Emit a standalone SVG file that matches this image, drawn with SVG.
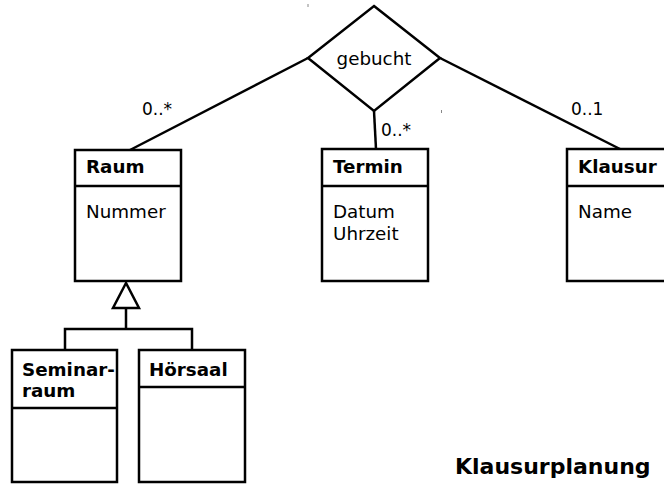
<svg xmlns="http://www.w3.org/2000/svg" width="664" height="484" viewBox="0 0 664 484">
  <style>
    .box { fill: #fff; stroke: #000; stroke-width: 2.5; }
    .line { fill: none; stroke: #000; stroke-width: 2.5; }
    .name { font-family: "DejaVu Sans", sans-serif; font-weight: bold; font-size: 18.3px; fill: #000; }
    .attr { font-family: "DejaVu Sans", sans-serif; font-size: 18.3px; fill: #000; }
    .mult { font-family: "DejaVu Sans", sans-serif; font-size: 17px; fill: #000; }
    .title { font-family: "DejaVu Sans", sans-serif; font-weight: bold; font-size: 22px; fill: #000; }
  </style>
  <rect width="664" height="484" fill="#fff"/>

  <!-- associations and generalization -->
  <g id="connectors">
    <line class="line" x1="308" y1="58" x2="130" y2="150"/>
    <line class="line" x1="374" y1="111" x2="376" y2="149"/>
    <line class="line" x1="440" y1="58" x2="620" y2="149"/>
    <polygon class="line" points="126,283 113,308 139,308" fill="#fff"/>
    <polyline class="line" points="126,308 126,329"/>
    <polyline class="line" points="65,350 65,329 192,329 192,350"/>
    <text class="mult" x="142" y="115">0..*</text>
    <text class="mult" x="381" y="136">0..*</text>
    <text class="mult" x="571" y="115">0..1</text>
    <line x1="308" y1="4" x2="308" y2="7" stroke="#888" stroke-width="1"/>
    <line x1="441.5" y1="110" x2="441.5" y2="113" stroke="#888" stroke-width="1"/>
  </g>

  <g id="gebucht">
    <polygon class="box" points="374,6 440,58 374,111 308,58"/>
    <text class="attr" x="374" y="65" text-anchor="middle">gebucht</text>
  </g>

  <g id="raum">
    <rect class="box" x="75" y="150" width="106" height="131"/>
    <line class="line" x1="75" y1="186" x2="181" y2="186"/>
    <text class="name" x="86" y="173">Raum</text>
    <text class="attr" x="86" y="218">Nummer</text>
  </g>

  <g id="termin">
    <rect class="box" x="322" y="149" width="106" height="132"/>
    <line class="line" x1="322" y1="186" x2="428" y2="186"/>
    <text class="name" x="333" y="173">Termin</text>
    <text class="attr" x="333" y="218">Datum</text>
    <text class="attr" x="333" y="240">Uhrzeit</text>
  </g>

  <g id="klausur">
    <rect class="box" x="567" y="149" width="106" height="132"/>
    <line class="line" x1="567" y1="186" x2="673" y2="186"/>
    <text class="name" x="578" y="173">Klausur</text>
    <text class="attr" x="578" y="218">Name</text>
  </g>

  <g id="seminarraum">
    <rect class="box" x="12" y="350" width="105" height="132"/>
    <line class="line" x1="12" y1="408" x2="117" y2="408"/>
    <text class="name" x="22" y="376">Seminar-</text>
    <text class="name" x="22" y="397">raum</text>
  </g>

  <g id="hoersaal">
    <rect class="box" x="139" y="350" width="106" height="132"/>
    <line class="line" x1="139" y1="387" x2="245" y2="387"/>
    <text class="name" x="149" y="376">Hörsaal</text>
  </g>

  <text class="title" x="455" y="474">Klausurplanung</text>
</svg>
